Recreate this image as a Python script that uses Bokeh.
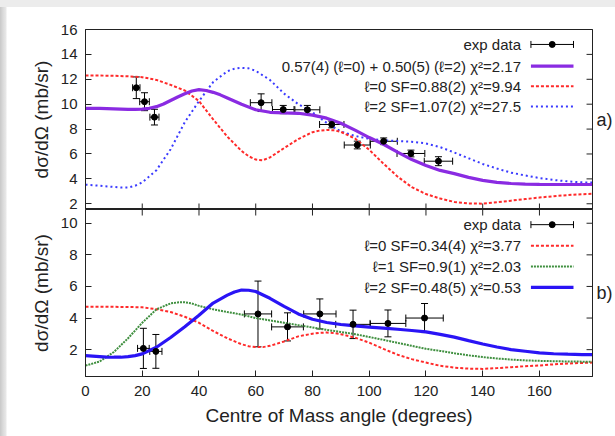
from bokeh.plotting import figure
from bokeh.models import (LinearAxis, Range1d, FixedTicker, Whisker, TeeHead,
                          ColumnDataSource)
from bokeh.layouts import column
from bokeh.core.properties import value
from bokeh.embed import file_html
from bokeh.resources import INLINE

# ---------------- data ----------------
# panel a) curves
top_mix_x = [0, 5, 10, 15, 17.5, 20, 22.5, 25, 27.5, 30, 32.5, 35, 37.5, 40, 42.5, 45,
             47.5, 50, 55, 60, 65, 70, 75, 80, 85, 90, 95, 100, 105, 110, 115, 120,
             125, 130, 135, 140, 145, 150, 155, 160, 165, 170, 175, 178.7]
top_mix = [9.67, 9.66, 9.63, 9.59, 9.59, 9.6, 9.67, 9.8, 10.02, 10.3, 10.58, 10.84,
           11.06, 11.17, 11.1, 10.95, 10.75, 10.5, 10.0, 9.55, 9.35, 9.3, 9.27, 9.12,
           8.88, 8.47, 7.92, 7.32, 6.78, 6.15, 5.55, 5.08, 4.68, 4.42, 4.12, 3.88,
           3.72, 3.63, 3.58, 3.56, 3.55, 3.55, 3.55, 3.55]
top_l0_x = [0, 5, 10, 15, 20, 25, 30, 35, 40, 45, 50, 55, 57.5, 60, 62.5, 65, 70, 75,
            80, 82.5, 85, 87.5, 90, 95, 100, 105, 110, 115, 120, 125, 130, 135, 140,
            145, 150, 155, 160, 165, 170, 175, 178.7]
top_l0 = [12.3, 12.3, 12.28, 12.24, 12.17, 11.95, 11.55, 11.1, 10.25, 8.78, 7.39, 6.24,
          5.82, 5.55, 5.5, 5.72, 6.47, 7.2, 7.75, 7.88, 7.93, 7.9, 7.78, 7.24, 6.34,
          5.23, 4.18, 3.34, 2.78, 2.42, 2.15, 2.03, 2.01, 2.12, 2.25, 2.38, 2.5, 2.61,
          2.7, 2.77, 2.8]
top_l2_x = [0, 5, 10, 12.5, 15, 17.5, 20, 25, 30, 35, 40, 45, 50, 52.5, 55, 57.5, 60,
            65, 70, 75, 80, 85, 90, 95, 100, 105, 110, 115, 120, 125, 130, 135, 140,
            145, 150, 155, 160, 165, 170, 175, 178.7]
top_l2 = [3.53, 3.45, 3.35, 3.3, 3.3, 3.45, 3.72, 4.7, 6.38, 8.55, 10.25, 11.78, 12.65,
          12.85, 12.92, 12.88, 12.68, 11.95, 10.85, 10.0, 9.35, 8.5, 7.8, 7.45, 7.22,
          7.1, 7.05, 6.98, 6.85, 6.55, 6.12, 5.66, 5.2, 4.83, 4.5, 4.27, 4.07, 3.91,
          3.8, 3.72, 3.71]

top_x = [17.9, 20.8, 24.3, 61.9, 69.7, 78.2, 86.8, 95.8, 105.1, 114.7, 124.4]
top_y = [11.32, 10.2, 8.96, 10.12, 9.57, 9.55, 8.37, 6.72, 7.02, 6.04, 5.42]
top_dx = [1.3, 1.7, 1.6, 3.8, 3.8, 4.4, 4.3, 4.6, 4.8, 4.9, 5.0]
top_dy = [0.87, 0.72, 0.63, 0.71, 0.33, 0.35, 0.27, 0.31, 0.27, 0.27, 0.36]

# panel b) curves
bot_l0_x = [0, 5, 10, 15, 20, 25, 30, 35, 40, 45, 50, 55, 57.5, 60, 62.5, 65, 70, 75,
            80, 82.5, 85, 87.5, 90, 95, 100, 105, 110, 115, 120, 125, 130, 135, 140,
            145, 150, 155, 160, 165, 170, 175, 178.7]
bot_l0 = [4.72, 4.72, 4.71, 4.7, 4.68, 4.56, 4.38, 4.08, 3.7, 3.18, 2.72, 2.34, 2.22,
          2.16, 2.16, 2.24, 2.52, 2.84, 3.01, 3.06, 3.08, 3.05, 2.98, 2.76, 2.44, 2.05,
          1.68, 1.4, 1.18, 0.98, 0.86, 0.8, 0.78, 0.83, 0.89, 0.95, 1.0, 1.07, 1.12,
          1.16, 1.18]
bot_l1_x = [0, 5, 10, 15, 20, 25, 30, 32.5, 35, 37.5, 40, 45, 50, 55, 60, 65, 70, 75,
            80, 85, 90, 95, 100, 105, 110, 115, 120, 125, 130, 135, 140, 145, 150, 155,
            160, 165, 170, 175, 178.7]
bot_l1 = [0.99, 1.25, 1.85, 2.72, 3.7, 4.55, 4.93, 4.99, 5.0, 4.92, 4.77, 4.55, 4.38,
          4.22, 4.0, 3.85, 3.7, 3.55, 3.4, 3.25, 3.12, 2.98, 2.8, 2.62, 2.43, 2.24,
          2.05, 1.92, 1.77, 1.64, 1.53, 1.44, 1.37, 1.32, 1.29, 1.27, 1.25, 1.24, 1.24]
bot_l2_x = [0, 5, 7.5, 10, 12.5, 15, 17.5, 20, 25, 30, 35, 40, 45, 50, 52.5, 55, 57.5,
            60, 65, 70, 75, 80, 85, 90, 95, 100, 105, 110, 115, 120, 125, 130, 135, 140,
            145, 150, 155, 160, 165, 170, 175, 178.7]
bot_l2 = [1.62, 1.56, 1.53, 1.52, 1.52, 1.56, 1.62, 1.73, 2.15, 2.77, 3.45, 4.18, 4.95,
          5.45, 5.65, 5.77, 5.76, 5.68, 5.25, 4.74, 4.26, 3.92, 3.72, 3.59, 3.5, 3.43,
          3.36, 3.29, 3.21, 3.12, 2.97, 2.79, 2.57, 2.36, 2.17, 2.0, 1.9, 1.8, 1.74,
          1.71, 1.69, 1.68]

bot_x = [20.4, 24.8, 60.8, 71.2, 82.6, 94.3, 106.6, 119.5]
bot_y = [2.08, 1.89, 4.26, 3.44, 4.26, 3.6, 3.66, 4.0]
bot_dx = [2.05, 2.15, 4.8, 5.6, 5.7, 6.1, 6.3, 6.6]
bot_dy = [1.27, 1.07, 2.08, 0.89, 0.95, 0.9, 0.85, 0.92]

x_ticks = [0, 20, 40, 60, 80, 100, 120, 140, 160]
top_yticks = [2, 4, 6, 8, 10, 12, 14, 16]
bot_yticks = [2, 4, 6, 8, 10]

top_labels = ["exp data",
              "0.57(4) (\u2113=0) + 0.50(5) (\u2113=2) \u03c7\u00b2=2.17",
              "\u2113=0 SF=0.88(2) \u03c7\u00b2=9.94",
              "\u2113=2 SF=1.07(2) \u03c7\u00b2=27.5"]
bot_labels = ["exp data",
              "\u2113=0 SF=0.34(4) \u03c7\u00b2=3.77",
              "\u2113=1 SF=0.9(1) \u03c7\u00b2=2.03",
              "\u2113=2 SF=0.48(5) \u03c7\u00b2=0.53"]

# ---------------- styles ----------------
FONT = "Liberation Sans"
INK = "#222222"
PURPLE = "#8a2be2"
RED = "#ff2a2a"
BLUE_DOT = "#3a3aff"
GREEN = "#3f8f3f"
BLUE = "#2a14f5"

X0, X1 = 0, 178.7
xr = Range1d(X0, X1)
TOP_Y = (1.54, 16.0)
BOT_Y = (0.30, 10.87)


def make_fig(height, yr, top, bottom):
    p = figure(width=615, height=height, x_range=xr, y_range=Range1d(*yr),
               output_backend="svg", toolbar_location=None,
               x_axis_location=None, y_axis_location=None,
               min_border_left=85, min_border_right=20,
               min_border_top=top, min_border_bottom=bottom)
    p.xgrid.visible = False
    p.ygrid.visible = False
    p.outline_line_color = INK
    p.outline_line_width = 1
    p.background_fill_color = "white"
    p.border_fill_alpha = 0
    return p


def style_ticks(ax, ticks):
    ax.ticker = FixedTicker(ticks=ticks)
    ax.major_tick_in = 6
    ax.major_tick_out = 0
    ax.minor_tick_in = 0
    ax.minor_tick_out = 0
    ax.axis_line_color = INK
    ax.major_tick_line_color = INK
    ax.major_label_text_font = FONT
    ax.major_label_text_font_size = "15px"
    ax.major_label_text_color = INK


def add_axes(p, yticks, yr, xlabels, tag, top_ticks):
    ly = LinearAxis()
    style_ticks(ly, yticks)
    ly.axis_label = "d\u03c3/d\u03a9 (mb/sr)"
    ly.axis_label_text_font = FONT
    ly.axis_label_text_font_size = "19px"
    ly.axis_label_text_font_style = "normal"
    ly.axis_label_text_color = INK
    ly.major_label_standoff = 8
    ly.axis_label_standoff = 6
    p.add_layout(ly, "left")
    # right side: panel tag as the axis label, ticks mirrored below
    ry = LinearAxis(ticker=FixedTicker(ticks=[]))
    ry.axis_line_color = INK
    ry.major_label_standoff = 0
    ry.major_tick_out = 0
    ry.axis_label = tag
    ry.axis_label_orientation = "horizontal"
    ry.axis_label_standoff = 4
    ry.axis_label_text_font = FONT
    ry.axis_label_text_font_size = "18px"
    ry.axis_label_text_font_style = "normal"
    ry.axis_label_text_color = INK
    p.add_layout(ry, "right")
    if xlabels:
        bx = LinearAxis()
        style_ticks(bx, x_ticks)
        bx.major_label_standoff = 9
        bx.axis_label = "Centre of Mass angle (degrees)"
        bx.axis_label_text_font = FONT
        bx.axis_label_text_font_size = "19px"
        bx.axis_label_text_font_style = "normal"
        bx.axis_label_text_color = INK
        bx.axis_label_standoff = 6
        p.add_layout(bx, "below")
    # mirrored inward ticks (right edge, and the shared edge between panels)
    dx = 6 / 2.854
    dy = 6 * (yr[1] - yr[0]) / (p.height - p.min_border_top - p.min_border_bottom)
    p.segment(x0=[X1] * len(yticks), x1=[X1 - dx] * len(yticks), y0=yticks, y1=yticks,
              line_color=INK, line_width=1)
    if top_ticks:
        p.segment(x0=x_ticks, x1=x_ticks, y0=[yr[1]] * len(x_ticks),
                  y1=[yr[1] - dy] * len(x_ticks), line_color=INK, line_width=1)
    else:
        p.segment(x0=x_ticks, x1=x_ticks, y0=[yr[0]] * len(x_ticks),
                  y1=[yr[0] + dy] * len(x_ticks), line_color=INK, line_width=1)


def add_data(p, xs, ys, dxs, dys):
    src = ColumnDataSource(dict(
        x=xs, y=ys,
        xl=[a - b for a, b in zip(xs, dxs)], xu=[a + b for a, b in zip(xs, dxs)],
        yl=[a - b for a, b in zip(ys, dys)], yu=[a + b for a, b in zip(ys, dys)]))
    p.add_layout(Whisker(source=src, base="x", lower="yl", upper="yu",
                         dimension="height", line_color="black", line_width=1,
                         lower_head=TeeHead(size=7, line_color="black", line_width=1),
                         upper_head=TeeHead(size=7, line_color="black", line_width=1)))
    p.add_layout(Whisker(source=src, base="y", lower="xl", upper="xu",
                         dimension="width", line_color="black", line_width=1,
                         lower_head=TeeHead(size=7, line_color="black", line_width=1),
                         upper_head=TeeHead(size=7, line_color="black", line_width=1)))
    p.scatter("x", "y", source=src, size=6, color="black")


def add_legend(p, labels, rows, styles):
    LX0, LX1, TX = 157.0, 172.0, 153.5
    p.text(x=[TX] * len(labels), y=rows, text=labels, text_align="right",
           text_baseline="middle", text_font=value(FONT), text_font_size="15px",
           text_color=INK)
    src = ColumnDataSource(dict(x=[(LX0 + LX1) / 2], y=[rows[0]], l=[LX0], u=[LX1]))
    p.add_layout(Whisker(source=src, base="y", lower="l", upper="u",
                         dimension="width", line_color="black", line_width=1,
                         lower_head=TeeHead(size=7, line_color="black", line_width=1),
                         upper_head=TeeHead(size=7, line_color="black", line_width=1)))
    p.scatter("x", "y", source=src, size=6, color="black")
    for r, st in zip(rows[1:], styles):
        p.line([LX0, LX1], [r, r], **st)


mix_style = dict(line_color=PURPLE, line_width=3.2)
l0_style = dict(line_color=RED, line_width=2, line_dash="3 2")
l2dot_style = dict(line_color=BLUE_DOT, line_width=2, line_dash="2 3")
l1_style = dict(line_color=GREEN, line_width=2, line_dash="2 1")
l2_style = dict(line_color=BLUE, line_width=3.2)

# ---------------- panel a ----------------
p1 = make_fig(209, TOP_Y, 29, 0)
add_axes(p1, top_yticks, TOP_Y, False, "a)", False)
p1.line(top_l2_x, top_l2, **l2dot_style)
p1.line(top_l0_x, top_l0, **l0_style)
p1.line(top_mix_x, top_mix, **mix_style)
add_data(p1, top_x, top_y, top_dx, top_dy)
add_legend(p1, top_labels, [14.8, 13.05, 11.44, 9.81],
           [mix_style, l0_style, l2dot_style])

# ---------------- panel b ----------------
p2 = make_fig(227, BOT_Y, 0, 60)
add_axes(p2, bot_yticks, BOT_Y, True, "b)", True)
p2.line(bot_l0_x, bot_l0, **l0_style)
p2.line(bot_l1_x, bot_l1, **l1_style)
p2.line(bot_l2_x, bot_l2, **l2_style)
add_data(p2, bot_x, bot_y, bot_dx, bot_dy)
add_legend(p2, bot_labels, [9.91, 8.58, 7.27, 5.94],
           [l0_style, l1_style, l2_style])

# page frame: light grey band on top, grey shading on the left
page_bg = ("linear-gradient(to bottom, #ececec 0px, #ececec 7px, rgba(255,255,255,0) 7px), "
           "linear-gradient(to right, #c8c8c8 0px, #dadada 3px, #e8e8e8 6px, "
           "#ffffff 7px, #ffffff 100%)")
layout = column(p1, p2, spacing=0, styles={"background": page_bg})
open("out.html", "w").write(file_html(layout, INLINE))
